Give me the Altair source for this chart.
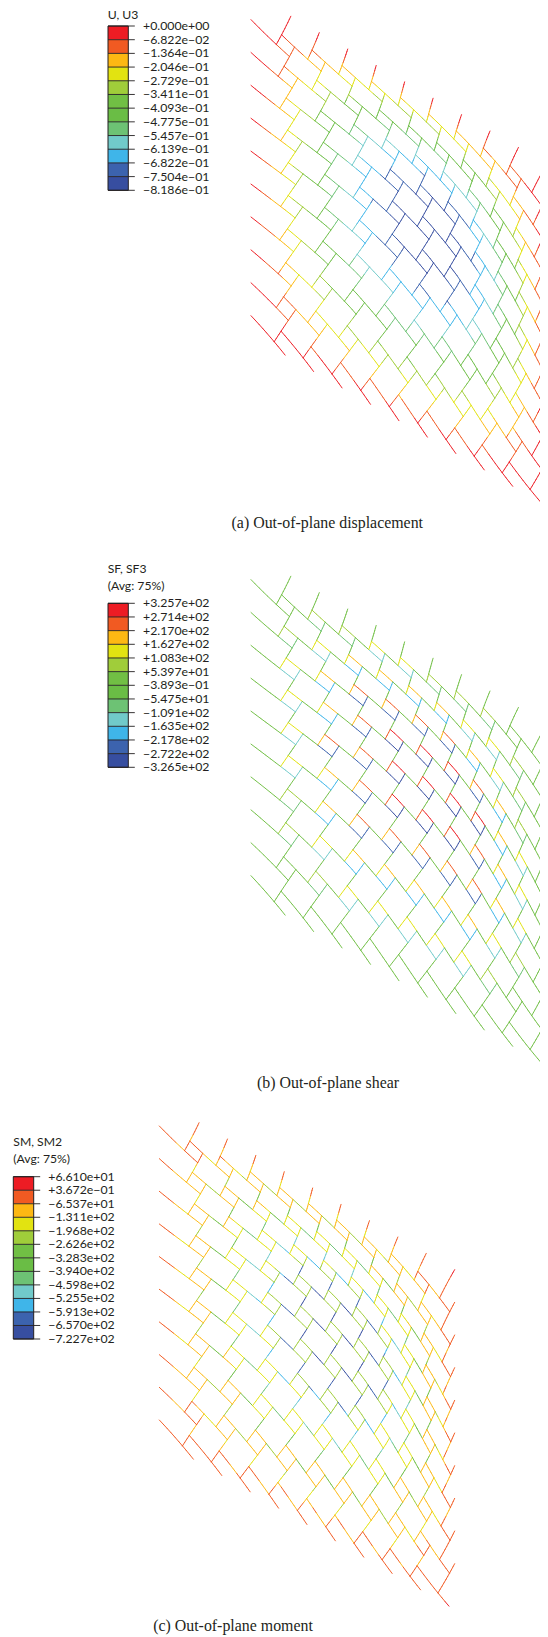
import altair as alt
import pandas as pd

alt.data_transformers.disable_max_rows()

# Colour bands of the contour legend, top to bottom
BANDS = ["#ED1C24", "#F15A22", "#FDB813", "#E2E311", "#A0CD3A", "#71BF44",
         "#6ABD45", "#6DC274", "#71CACA", "#3FB5E9", "#3C63AE", "#374EA0"]

LABELS_A = ["+0.000e+00", "−6.822e−02", "−1.364e−01", "−2.046e−01", "−2.729e−01", "−3.411e−01", "−4.093e−01",
            "−4.775e−01", "−5.457e−01", "−6.139e−01", "−6.822e−01", "−7.504e−01", "−8.186e−01"]
LABELS_B = ["+3.257e+02", "+2.714e+02", "+2.170e+02", "+1.627e+02", "+1.083e+02", "+5.397e+01", "−3.893e−01",
            "−5.475e+01", "−1.091e+02", "−1.635e+02", "−2.178e+02", "−2.722e+02", "−3.265e+02"]
LABELS_C = ["+6.610e+01", "+3.672e−01", "−6.537e+01", "−1.311e+02", "−1.968e+02", "−2.626e+02", "−3.283e+02",
            "−3.940e+02", "−4.598e+02", "−5.255e+02", "−5.913e+02", "−6.570e+02", "−7.227e+02"]

# Lattice frame: lower-left stub start and the two cell steps
FRAME_A = {"origin": (251.0, 315.7), "step_i": (28.45, 16.4), "step_j": (0.0, -32.9)}
FRAME_B = {"origin": (251.0, 875.7), "step_i": (28.45, 16.4), "step_j": (0.0, -32.9)}
FRAME_C = {"origin": (159.3, 1420.0), "step_i": (28.4, 16.33), "step_j": (0.0, -32.67)}
# Page shift of a node per unit of deflection, read from displaced junctions
SAG = (37.0, -21.0)

# Estimated from the contour colours of panel (a): |U3| on an 11 x 11 grid over the plate.
# Junctions between grid points are blended from this table, not read one by one.
DEFLECTION = [
    [0, 0, 0, 0, 0, 0, 0, 0, 0, 0, 0],
    [0, .078, .149, .205, .241, .253, .241, .205, .149, .078, 0],
    [0, .149, .283, .389, .458, .481, .458, .389, .283, .149, 0],
    [0, .205, .389, .536, .630, .662, .630, .536, .389, .205, 0],
    [0, .241, .458, .630, .741, .778, .741, .630, .458, .241, 0],
    [0, .253, .481, .662, .778, .819, .778, .662, .481, .253, 0],
    [0, .241, .458, .630, .741, .778, .741, .630, .458, .241, 0],
    [0, .205, .389, .536, .630, .662, .630, .536, .389, .205, 0],
    [0, .149, .283, .389, .458, .481, .458, .389, .283, .149, 0],
    [0, .078, .149, .205, .241, .253, .241, .205, .149, .078, 0],
    [0, 0, 0, 0, 0, 0, 0, 0, 0, 0, 0],
]

# Estimated from panel (b): shear band of each small square, row j = 0 .. 9, column i = 0 .. 9
# 0 green, 1 pale green, 2 yellow, 3 amber, 4 orange, 5 red
SHEAR_LEVEL = [
    [0, 0, 0, 0, 0, 0, 0, 0, 0, 0],
    [0, 1, 2, 2, 2, 2, 2, 1, 0, 0],
    [1, 2, 3, 3, 3, 3, 3, 2, 1, 0],
    [1, 3, 4, 4, 4, 4, 4, 3, 2, 0],
    [2, 3, 4, 5, 5, 5, 4, 3, 2, 0],
    [2, 4, 4, 5, 5, 5, 5, 3, 2, 0],
    [2, 3, 4, 5, 5, 5, 4, 3, 1, 0],
    [2, 3, 4, 4, 4, 4, 3, 2, 1, 0],
    [1, 2, 3, 3, 3, 3, 2, 2, 1, 0],
    [0, 1, 1, 2, 2, 1, 1, 1, 0, 0],
]
SHEAR_BY_LEVEL = [0, 80, 135, 190, 245, 300]

# Estimated from panel (c): SM2 on the long middle stretches and on the outer stretches of each beam
MOMENT_MID = [
    [-30, -30, -30, -30, -30, -30, -30, -30, -30, -30, 20],
    [-30, -96, -156, -202, -233, -243, -233, -202, -156, -96, -20],
    [-30, -156, -269, -358, -416, -436, -416, -358, -269, -156, -30],
    [-30, -202, -358, -482, -561, -588, -561, -482, -358, -202, -30],
    [-30, -233, -416, -561, -654, -686, -654, -561, -416, -233, -30],
    [-30, -243, -436, -588, -686, -720, -686, -588, -436, -243, -30],
    [-30, -233, -416, -561, -654, -686, -654, -561, -416, -233, -30],
    [-30, -202, -358, -482, -561, -588, -561, -482, -358, -202, -30],
    [-30, -156, -269, -358, -416, -436, -416, -358, -269, -156, -30],
    [-30, -96, -156, -202, -233, -243, -233, -202, -156, -96, -20],
    [-30, -30, -30, -30, -30, -30, -30, -30, -30, -30, 20],
]
MOMENT_OUT = [
    [-35, -35, -35, -35, -35, -35, -35, -35, -35, -35, 20],
    [-35, -55, -73, -88, -97, -100, -97, -88, -73, -55, -20],
    [-35, -73, -108, -135, -152, -158, -152, -135, -108, -73, -35],
    [-35, -88, -135, -173, -196, -205, -196, -173, -135, -88, -35],
    [-35, -97, -152, -196, -225, -235, -225, -196, -152, -97, -35],
    [-35, -100, -158, -205, -235, -245, -235, -205, -158, -100, -35],
    [-35, -97, -152, -196, -225, -235, -225, -196, -152, -97, -35],
    [-35, -88, -135, -173, -196, -205, -196, -173, -135, -88, -35],
    [-35, -73, -108, -135, -152, -158, -152, -135, -108, -73, -35],
    [-35, -55, -73, -88, -97, -100, -97, -88, -73, -55, -20],
    [-35, -35, -35, -35, -35, -35, -35, -35, -35, -35, 20],
]

N = 10
SPAN = 10.4


def grid_value(table, s, t):
    """Read a plate table at lattice position (s, t)."""
    u = min(max(s / SPAN, 0.0), 1.0) * 10
    v = min(max((t + 0.6) / SPAN, 0.0), 1.0) * 10
    k, l = min(int(u), 9), min(int(v), 9)
    fu, fv = u - k, v - l
    return ((1 - fu) * (1 - fv) * table[l][k] + fu * (1 - fv) * table[l][k + 1]
            + (1 - fu) * fv * table[l + 1][k] + fu * fv * table[l + 1][k + 1])


def place(frame, s, t):
    w = grid_value(DEFLECTION, s, t)
    ox, oy = frame["origin"]
    ax, ay = frame["step_i"]
    bx, by = frame["step_j"]
    return ox + s * ax + t * bx + w * SAG[0], oy + s * ay + t * by + w * SAG[1]


def shear(i, j):
    if 0 <= i < N and 0 <= j < N:
        return SHEAR_BY_LEVEL[SHEAR_LEVEL[j][i]]
    return 0


def value_a(kind, part, i, j, s, t):
    return -grid_value(DEFLECTION, s, t)


def value_b(kind, part, i, j, s, t):
    if kind == "U":
        if part == 0:
            return shear(i - 1, j)
        if part == 2:
            return -shear(i, j)
    else:
        if part == 0:
            return 0.85 * shear(i, j)
        if part == 2:
            return -shear(i, j + 1)
    return 0.0


def value_c(kind, part, i, j, s, t):
    return grid_value(MOMENT_MID if part == 1 else MOMENT_OUT, s, t)


def pieces(frame, value_of):
    rows = []
    for i in range(N):
        for j in range(N):
            beams = {"U": [(i, j), (i + .4, j - .2), (i + .8, j - .4), (i + 1.2, j - .6)],
                     "V": [(i + .8, j - .4), (i + 1.0, j), (i + 1.2, j + .4), (i + 1.4, j + .8)]}
            for kind, nodes in beams.items():
                for part in range(3):
                    (s0, t0), (s1, t1) = nodes[part], nodes[part + 1]
                    for n in range(3):
                        f0, f1 = n / 3, (n + 1) / 3
                        sa, ta = s0 + (s1 - s0) * f0, t0 + (t1 - t0) * f0
                        sb, tb = s0 + (s1 - s0) * f1, t0 + (t1 - t0) * f1
                        xa, ya = place(frame, sa, ta)
                        xb, yb = place(frame, sb, tb)
                        rows.append({"x": xa, "y": ya, "x2": xb, "y2": yb,
                                     "v": value_of(kind, part, i, j, (sa + sb) / 2, (ta + tb) / 2)})
    return pd.DataFrame(rows)


# Page pixels: the plot area starts at the 8px margin; the page holds the chart to 532px wide,
# so the last 8px of the rightmost stubs of panels (a) and (b) fall outside it.
SX = alt.Scale(domain=[8, 540], nice=False, zero=False, padding=0)
SY = alt.Scale(domain=[1637, 8], nice=False, zero=False, padding=0)


def lattice(frame, value_of, thresholds):
    return alt.Chart(pieces(frame, value_of)).mark_rule(strokeWidth=0.95, strokeCap="round").encode(
        x=alt.X("x:Q", scale=SX, axis=None), x2="x2:Q",
        y=alt.Y("y:Q", scale=SY, axis=None), y2="y2:Q",
        color=alt.Color("v:Q", legend=None,
                        scale=alt.Scale(type="threshold", domain=sorted(thresholds), range=BANDS[::-1])),
    )


THRESH_A = [-.06822, -.1364, -.2046, -.2729, -.3411, -.4093, -.4775, -.5457, -.6139, -.6822, -.7504]
THRESH_B = [271.4, 217.0, 162.7, 108.3, 53.97, -.3893, -54.75, -109.1, -163.5, -217.8, -272.2]
THRESH_C = [.3672, -65.37, -131.1, -196.8, -262.6, -328.3, -394.0, -459.8, -525.5, -591.3, -657.0]

# Legend placement: bar x range, bar top and bottom, label x, title lines
LEGENDS = [
    {"bar": (108.0, 128.3), "top": 26.0, "bottom": 190.3, "text_x": 143.0, "labels": LABELS_A,
     "titles": [("U, U3", 107.7, 14.5)]},
    {"bar": (108.0, 128.3), "top": 603.3, "bottom": 767.3, "text_x": 143.0, "labels": LABELS_B,
     "titles": [("SF, SF3", 107.7, 569.0), ("(Avg: 75%)", 107.7, 586.0)]},
    {"bar": (13.3, 33.7), "top": 1176.7, "bottom": 1339.0, "text_x": 48.3, "labels": LABELS_C,
     "titles": [("SM, SM2", 13.3, 1141.7), ("(Avg: 75%)", 13.3, 1159.0)]},
]
CAPTIONS = [("(a) Out-of-plane displacement", 327.3, 523.0),
            ("(b) Out-of-plane shear", 328.0, 1082.5),
            ("(c) Out-of-plane moment", 233.0, 1625.5)]

band_rows, rule_rows, text_rows, frame_rows, title_rows = [], [], [], [], []
for leg in LEGENDS:
    x0, x1 = leg["bar"]
    top, bottom = leg["top"], leg["bottom"]
    step = (bottom - top) / 12
    for n in range(12):
        band_rows.append({"x": x0, "x2": x1, "y": top + n * step, "y2": top + (n + 1) * step, "c": BANDS[n]})
    for n in range(13):
        yy = top + n * step
        rule_rows.append({"x": x0, "x2": x1 + 6.5, "y": yy})
        text_rows.append({"x": leg["text_x"], "y": yy, "t": leg["labels"][n]})
    frame_rows.append({"x": x0, "x2": x1, "y": top, "y2": bottom})
    for t, tx, ty in leg["titles"]:
        title_rows.append({"x": tx, "y": ty, "t": t})

X = alt.X("x:Q", scale=SX, axis=None)
Y = alt.Y("y:Q", scale=SY, axis=None)

bands = alt.Chart(pd.DataFrame(band_rows)).mark_rect().encode(
    x=X, x2="x2:Q", y=Y, y2="y2:Q", color=alt.Color("c:N", scale=None, legend=None))
ticks = alt.Chart(pd.DataFrame(rule_rows)).mark_rule(color="#231F20", strokeWidth=0.9).encode(x=X, x2="x2:Q", y=Y)
outline = alt.Chart(pd.DataFrame(frame_rows)).mark_rect(filled=False, stroke="#231F20", strokeWidth=1.0).encode(
    x=X, x2="x2:Q", y=Y, y2="y2:Q")
label_text = alt.Chart(pd.DataFrame(text_rows)).mark_text(
    align="left", baseline="middle", font="Lato", fontSize=12.3, color="#231F20").encode(x=X, y=Y, text="t:N")
title_text = alt.Chart(pd.DataFrame(title_rows)).mark_text(
    align="left", baseline="middle", font="Lato", fontSize=12.2, color="#231F20").encode(x=X, y=Y, text="t:N")
captions = alt.Chart(pd.DataFrame([{"t": t, "x": x, "y": y} for t, x, y in CAPTIONS])).mark_text(
    align="center", baseline="middle", font="Liberation Serif", fontSize=15.9, color="#231F20").encode(
    x=X, y=Y, text="t:N")

chart = alt.layer(
    lattice(FRAME_A, value_a, THRESH_A),
    lattice(FRAME_B, value_b, THRESH_B),
    lattice(FRAME_C, value_c, THRESH_C),
    bands, ticks, outline, label_text, title_text, captions,
).resolve_scale(color="independent").properties(
    width=532, height=1629, padding=0, autosize=alt.AutoSizeParams(type="none"),
).configure_view(stroke=None)

chart.save("out.html", embed_options={"renderer": "svg", "actions": False})
